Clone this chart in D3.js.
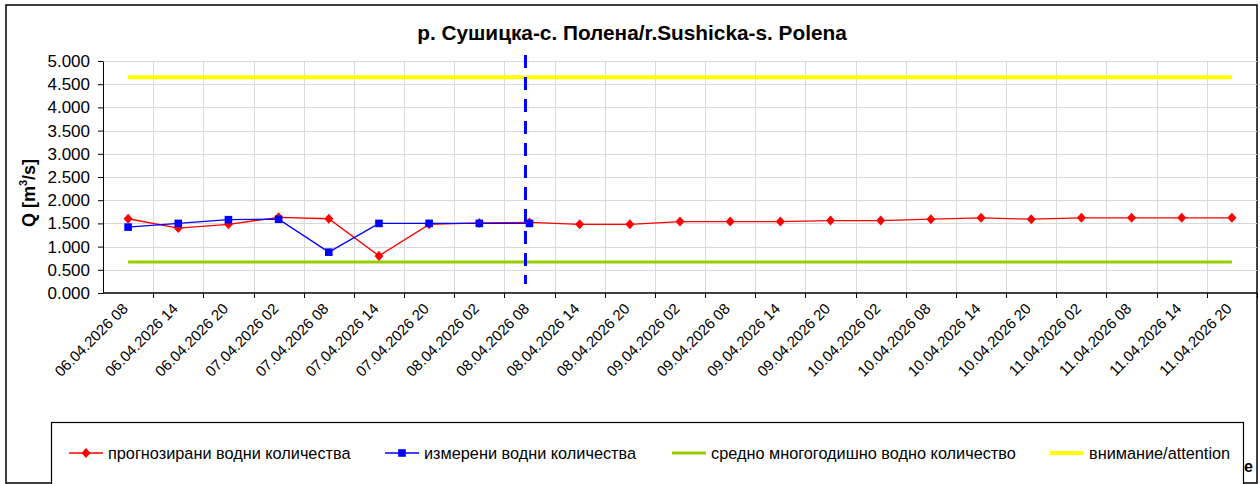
<!DOCTYPE html>
<html>
<head>
<meta charset="utf-8">
<script src="https://cdn.jsdelivr.net/npm/d3@7"></script>
<style>
  html, body { margin: 0; padding: 0; background: #fff; }
  svg { display: block; font-family: "Liberation Sans", Arial, sans-serif; }
</style>
</head>
<body>
<svg id="chart" width="1260" height="484"></svg>
<script>
const title = "р. Сушицка-с. Полена/r.Sushicka-s. Polena";
const categories = [
  "06.04.2026 08", "06.04.2026 14", "06.04.2026 20",
  "07.04.2026 02", "07.04.2026 08", "07.04.2026 14", "07.04.2026 20",
  "08.04.2026 02", "08.04.2026 08", "08.04.2026 14", "08.04.2026 20",
  "09.04.2026 02", "09.04.2026 08", "09.04.2026 14", "09.04.2026 20",
  "10.04.2026 02", "10.04.2026 08", "10.04.2026 14", "10.04.2026 20",
  "11.04.2026 02", "11.04.2026 08", "11.04.2026 14", "11.04.2026 20"
];
const forecast = [1.600, 1.400, 1.480, 1.630, 1.600, 0.800, 1.480, 1.510, 1.520,
  1.480, 1.480, 1.540, 1.540, 1.540, 1.560, 1.560, 1.590, 1.620, 1.590, 1.620, 1.620, 1.620, 1.620];
const measured = [1.420, 1.500, 1.580, 1.590, 0.880, 1.500, 1.500, 1.500, 1.500];
const meanLevel = 0.670;
const attentionLevel = 4.650;
const yTicks = [0, 0.5, 1, 1.5, 2, 2.5, 3, 3.5, 4, 4.5, 5];
const nowCategory = "08.04.2026 08";
const legendLabels = ["прогнозирани водни количества", "измерени водни количества",
  "средно многогодишно водно количество", "внимание/attention"];

const svg = d3.select("#chart");
const plot = { left: 103, right: 1257, top: 61, bottom: 293 };

const x = d3.scaleBand().domain(categories).range([plot.left, plot.right]);
const cx = c => x(c) + x.bandwidth() / 2;
const y = d3.scaleLinear().domain([0, 5]).range([plot.bottom, plot.top]);

// outer border
svg.append("rect").attr("x", 6).attr("y", 5).attr("width", 1251).attr("height", 478)
  .attr("fill", "#fff").attr("stroke", "#000").attr("stroke-width", 1.5);

// title
svg.append("text").attr("x", 632).attr("y", 40).attr("text-anchor", "middle")
  .attr("font-size", 20.8).attr("font-weight", "bold").text(title);

// gridlines
const grid = svg.append("g").attr("stroke", "#d9d9d9").attr("stroke-width", 1);
yTicks.filter(t => t > 0).forEach(t => {
  grid.append("line").attr("x1", plot.left).attr("x2", plot.right)
    .attr("y1", Math.round(y(t)) + 0.5).attr("y2", Math.round(y(t)) + 0.5);
});
categories.slice(1).forEach(c => {
  grid.append("line").attr("x1", Math.round(x(c)) + 0.5).attr("x2", Math.round(x(c)) + 0.5)
    .attr("y1", plot.top).attr("y2", plot.bottom);
});

// y axis
const yAxis = svg.append("g").attr("transform", `translate(${plot.left},0)`)
  .call(d3.axisLeft(y).tickValues(yTicks).tickFormat(d3.format(".3f")).tickSize(5).tickPadding(8).tickSizeOuter(0));
yAxis.select(".domain").attr("stroke", "#000");
yAxis.selectAll("line").attr("stroke", "#000");
yAxis.selectAll("text").attr("font-size", 17).attr("font-family", "Liberation Sans, Arial, sans-serif").attr("fill", "#000");

// y title
svg.append("text").attr("transform", "translate(35,193) rotate(-90)")
  .attr("text-anchor", "middle").attr("font-size", 18).attr("font-weight", "bold")
  .call(t => {
    t.append("tspan").text("Q [m");
    t.append("tspan").attr("font-size", 11).attr("dy", -8).text("3");
    t.append("tspan").attr("dy", 8).text("/s]");
  });

// x axis
const xg = svg.append("g");
xg.append("line").attr("x1", plot.left).attr("x2", plot.right)
  .attr("y1", plot.bottom).attr("y2", plot.bottom).attr("stroke", "#000").attr("stroke-width", 1.5);
categories.concat([null]).forEach((c, i) => {
  const px = c === null ? plot.right : x(c);
  if (i === 0) return;
  xg.append("line").attr("x1", Math.round(px) + 0.5).attr("x2", Math.round(px) + 0.5)
    .attr("y1", plot.bottom).attr("y2", plot.bottom + 5).attr("stroke", "#000");
});
categories.forEach(c => {
  xg.append("text").attr("transform", `translate(${cx(c) - 3},${plot.bottom + 13}) rotate(-45)`)
    .attr("text-anchor", "end").attr("dy", "0.35em").attr("font-size", 15).text(c);
});

// reference lines
const flat = v => categories.map(c => ({ c, v }));
const lineGen = d3.line().x(d => cx(d.c)).y(d => y(d.v));
svg.append("path").datum(flat(attentionLevel)).attr("d", lineGen)
  .attr("fill", "none").attr("stroke", "#ffff00").attr("stroke-width", 4);
svg.append("path").datum(flat(meanLevel)).attr("d", lineGen)
  .attr("fill", "none").attr("stroke", "#99cc00").attr("stroke-width", 3);

// forecast series
const fData = forecast.map((v, i) => ({ c: categories[i], v }));
svg.append("path").datum(fData).attr("d", lineGen)
  .attr("fill", "none").attr("stroke", "#ff0000").attr("stroke-width", 1.3);
const diamond = (g, px, py) => g.append("path")
  .attr("d", `M${px},${py - 5}L${px + 4.5},${py}L${px},${py + 5}L${px - 4.5},${py}Z`).attr("fill", "#ff0000");
const fm = svg.append("g");
fData.forEach(d => diamond(fm, cx(d.c), y(d.v)));

// measured series
const mData = measured.map((v, i) => ({ c: categories[i], v }));
svg.append("path").datum(mData).attr("d", lineGen)
  .attr("fill", "none").attr("stroke", "#0000ff").attr("stroke-width", 1.3);
svg.append("g").selectAll("rect").data(mData).join("rect")
  .attr("x", d => cx(d.c) - 3.8).attr("y", d => y(d.v) - 3.8)
  .attr("width", 7.6).attr("height", 7.6).attr("fill", "#0000ff");

// now line
const nx = cx(nowCategory) - 4;
svg.append("line").attr("x1", nx).attr("x2", nx).attr("y1", 55).attr("y2", 284)
  .attr("stroke", "#0000ff").attr("stroke-width", 3).attr("stroke-dasharray", "13,9");

// legend
svg.append("rect").attr("x", 51.5).attr("y", 422.5).attr("width", 1192).attr("height", 80)
  .attr("fill", "#fff").attr("stroke", "#000").attr("stroke-width", 1.2);
const legY = 453;
const legItems = [
  { x: 69, color: "#ff0000", w: 1.3, marker: "diamond" },
  { x: 385, color: "#0000ff", w: 1.3, marker: "square" },
  { x: 672, color: "#99cc00", w: 3, marker: null },
  { x: 1050, color: "#ffff00", w: 4, marker: null }
];
legItems.forEach((it, i) => {
  const g = svg.append("g");
  g.append("line").attr("x1", it.x).attr("x2", it.x + 34).attr("y1", legY).attr("y2", legY)
    .attr("stroke", it.color).attr("stroke-width", it.w);
  if (it.marker === "diamond") diamond(g, it.x + 17, legY);
  if (it.marker === "square") g.append("rect").attr("x", it.x + 17 - 3.8).attr("y", legY - 3.8)
    .attr("width", 7.6).attr("height", 7.6).attr("fill", it.color);
  g.append("text").attr("x", it.x + 39).attr("y", legY).attr("dy", "0.35em")
    .attr("font-size", 16.3).text(legendLabels[i]);
});
svg.append("text").attr("x", 1244).attr("y", 472).attr("font-size", 16).attr("font-weight", "bold").text("e");
</script>
</body>
</html>
